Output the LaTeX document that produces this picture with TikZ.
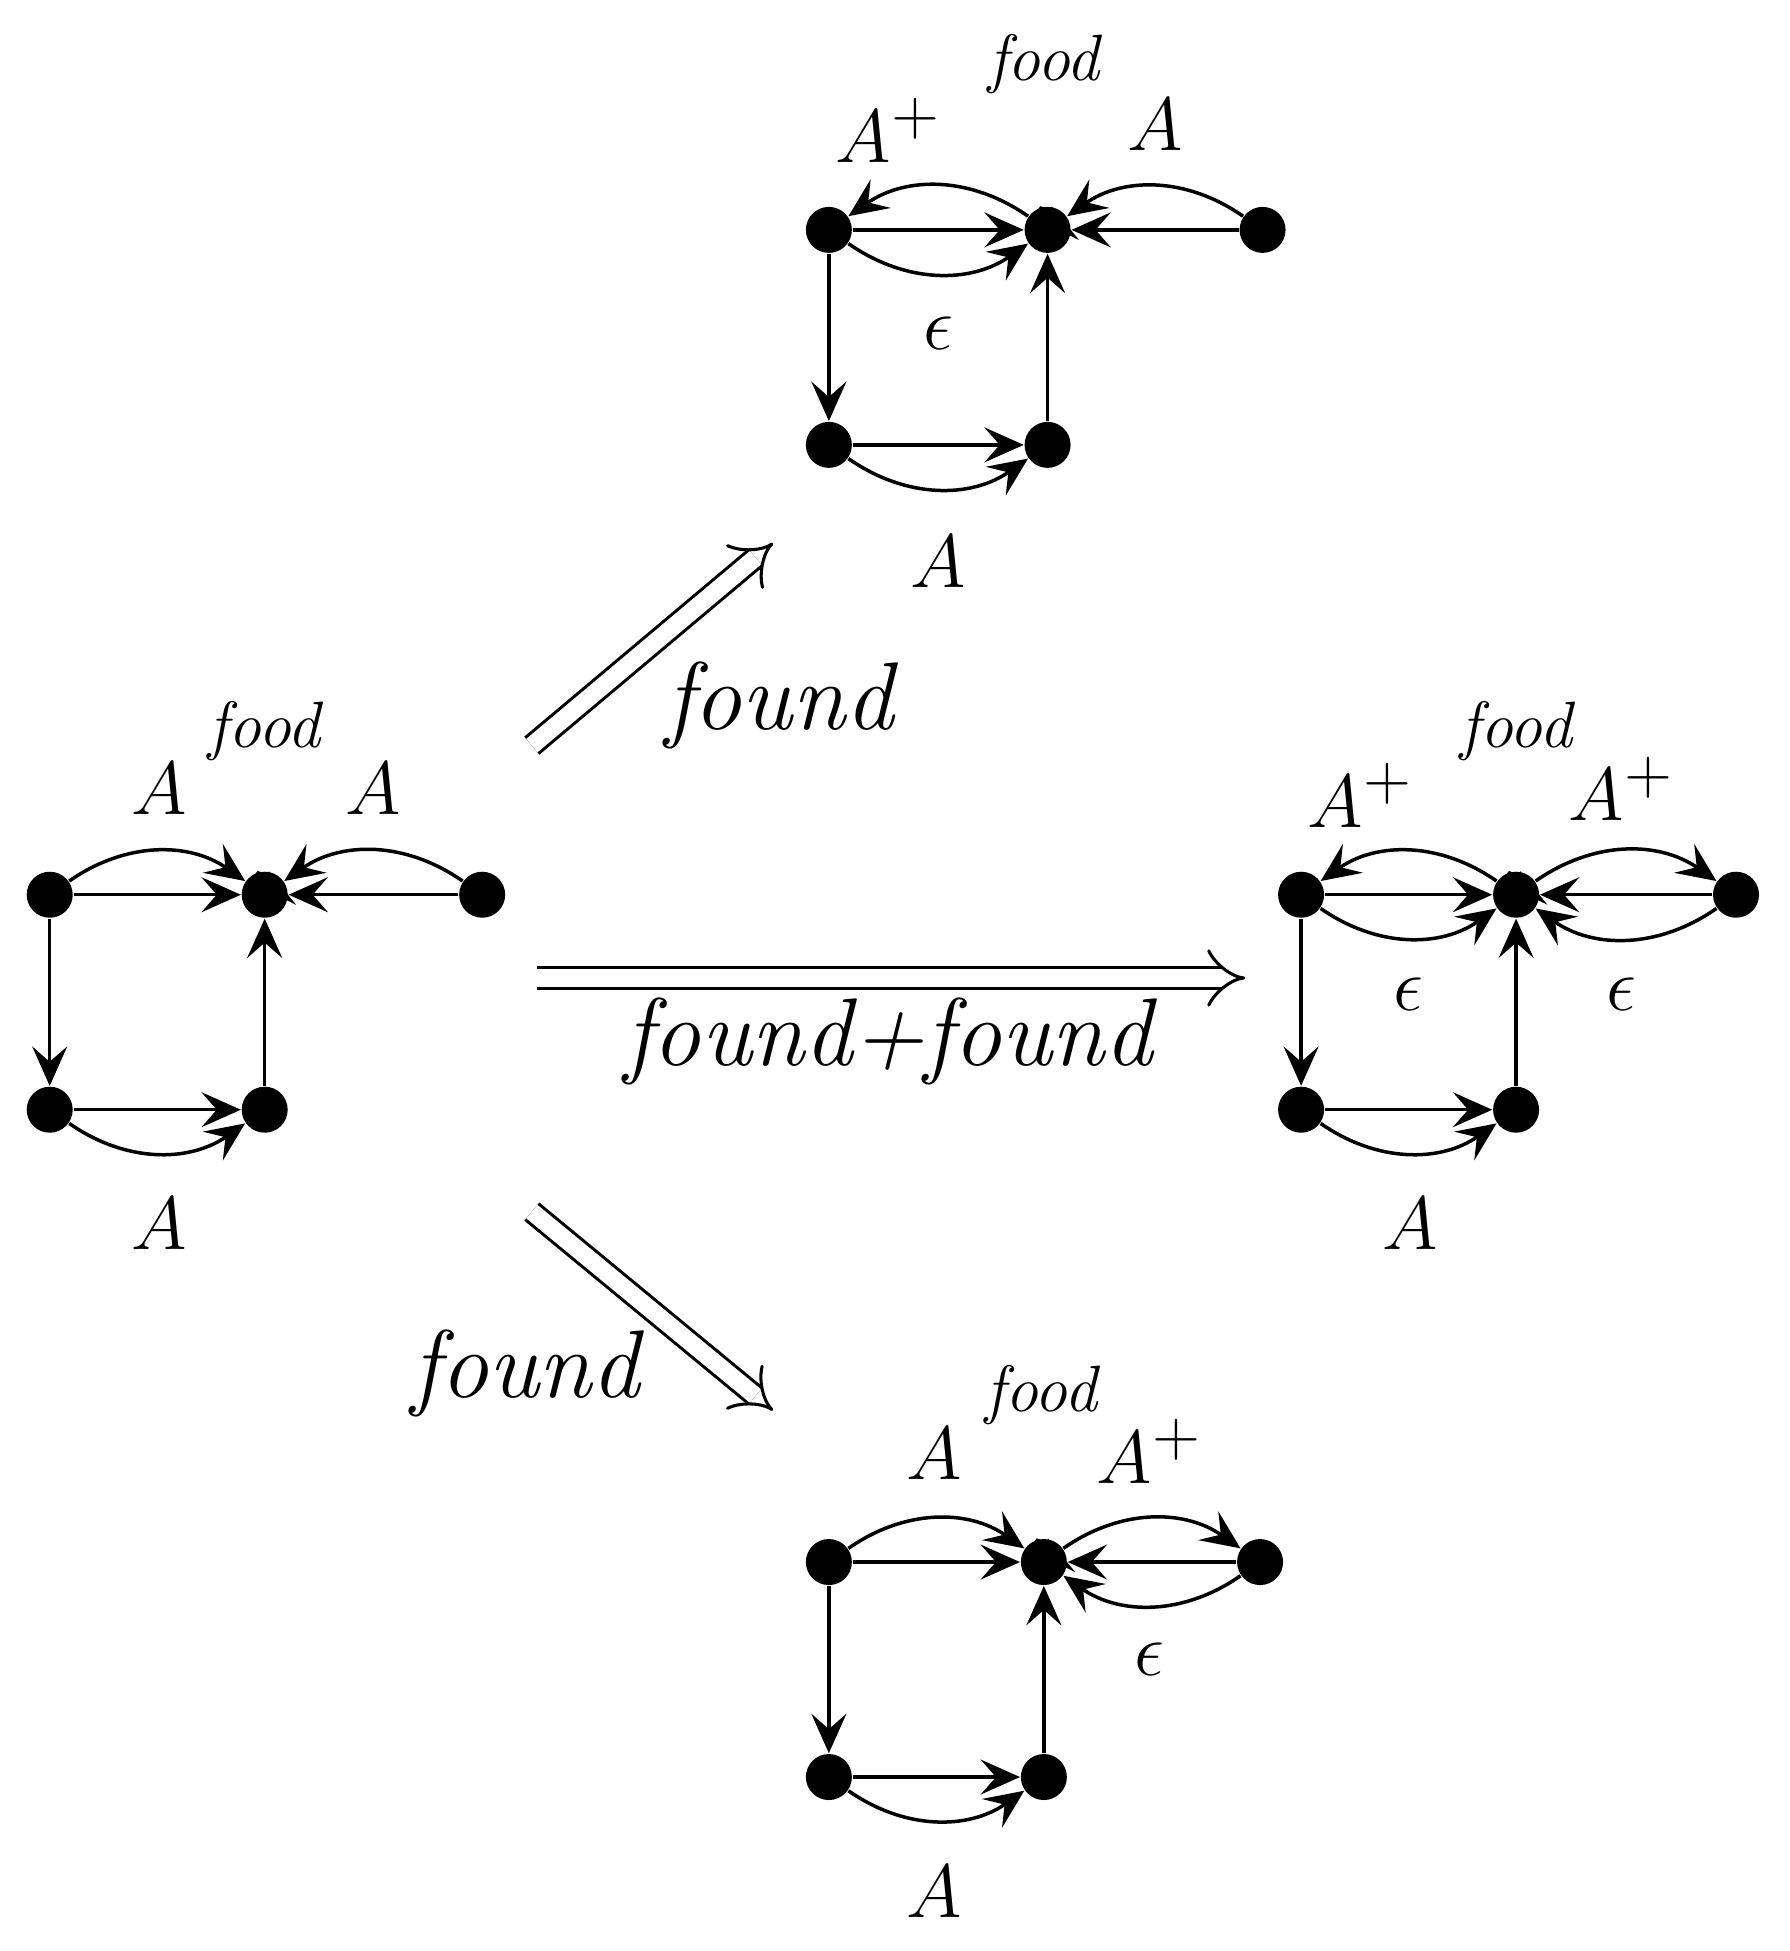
\documentclass[tikz,border=0pt]{standalone}
\usetikzlibrary{arrows.meta}
\begin{document}
\begin{tikzpicture}[x=0.01cm,y=-0.01cm,
  v/.style={circle,fill=black,inner sep=0pt,minimum size=0.37cm},
  e/.style={-{Stealth[length=9pt,width=8pt,inset=3.5pt]},line width=0.8pt},
  lab/.style={font=\fontsize{19}{22}\selectfont},
  fd/.style={font=\fontsize{15}{18}\selectfont\itshape},
  fn/.style={font=\fontsize{22}{26}\selectfont\itshape},
  imp/.style={double,double distance=4pt,line width=0.7pt,-{Implies[length=7pt]}}]
\useasboundingbox (0,0) rectangle (1440,1570);
% left
\node[v] (La) at (40,720) {}; \node[v] (Lb) at (213,720) {}; \node[v] (Lc) at (388,720) {};
\node[v] (Ld) at (40,893) {}; \node[v] (Le) at (213,893) {};
\draw[e] (La) -- (Lb); \draw[e] (La) to[bend left=35] (Lb);
\draw[e] (Lc) -- (Lb); \draw[e] (Lc) to[bend right=35] (Lb);
\draw[e] (Lb.110) .. controls +(100:1.0) and +(75:1.0) .. (Lb.80);
\draw[e] (La) -- (Ld); \draw[e] (Ld) -- (Le); \draw[e] (Ld) to[bend right=35] (Le); \draw[e] (Le) -- (Lb);
\node[lab] (l1) at (128,635) {$A$}; \node[fd] (l2) at (213,588) {food}; \node[lab] (l3) at (300,635) {$A$}; \node[lab] (l4) at (128,985) {$A$};
% top
\node[v] (Ta) at (667,185) {}; \node[v] (Tb) at (843,185) {}; \node[v] (Tc) at (1016,185) {};
\node[v] (Td) at (667,358) {}; \node[v] (Te) at (843,358) {};
\draw[e] (Ta) -- (Tb); \draw[e] (Tb) to[bend right=35] (Ta); \draw[e] (Ta) to[bend right=35] (Tb);
\draw[e] (Tc) -- (Tb); \draw[e] (Tc) to[bend right=35] (Tb);
\draw[e] (Tb.110) .. controls +(100:1.0) and +(75:1.0) .. (Tb.80);
\draw[e] (Ta) -- (Td); \draw[e] (Td) -- (Te); \draw[e] (Td) to[bend right=35] (Te); \draw[e] (Te) -- (Tb);
\node[lab] (t1) at (715,105) {$A^+$}; \node[fd] (t2) at (840,52) {food}; \node[lab] (t3) at (930,100) {$A$};
\node[lab] (t4) at (755,268) {$\epsilon$}; \node[lab] (t5) at (755,452) {$A$};
% right
\node[v] (Ra) at (1047,720) {}; \node[v] (Rb) at (1220,720) {}; \node[v] (Rc) at (1397,720) {};
\node[v] (Rd) at (1047,893) {}; \node[v] (Re) at (1220,893) {};
\draw[e] (Ra) -- (Rb); \draw[e] (Rb) to[bend right=35] (Ra); \draw[e] (Ra) to[bend right=35] (Rb);
\draw[e] (Rc) -- (Rb); \draw[e] (Rb) to[bend left=35] (Rc); \draw[e] (Rc) to[bend left=35] (Rb);
\draw[e] (Rb.110) .. controls +(100:1.0) and +(75:1.0) .. (Rb.80);
\draw[e] (Ra) -- (Rd); \draw[e] (Rd) -- (Re); \draw[e] (Rd) to[bend right=35] (Re); \draw[e] (Re) -- (Rb);
\node[lab] (r1) at (1095,640) {$A^+$}; \node[fd] (r2) at (1220,588) {food}; \node[lab] (r3) at (1305,635) {$A^+$};
\node[lab] (r4) at (1133,800) {$\epsilon$}; \node[lab] (r5) at (1305,800) {$\epsilon$}; \node[lab] (r6) at (1135,985) {$A$};
% bottom
\node[v] (Ba) at (667,1257) {}; \node[v] (Bb) at (840,1257) {}; \node[v] (Bc) at (1014,1257) {};
\node[v] (Bd) at (667,1430) {}; \node[v] (Be) at (840,1430) {};
\draw[e] (Ba) -- (Bb); \draw[e] (Ba) to[bend left=35] (Bb);
\draw[e] (Bc) -- (Bb); \draw[e] (Bb) to[bend left=35] (Bc); \draw[e] (Bc) to[bend left=35] (Bb);
\draw[e] (Bb.110) .. controls +(100:1.0) and +(75:1.0) .. (Bb.80);
\draw[e] (Ba) -- (Bd); \draw[e] (Bd) -- (Be); \draw[e] (Bd) to[bend right=35] (Be); \draw[e] (Be) -- (Bb);
\node[lab] (b1) at (752,1170) {$A$}; \node[fd] (b2) at (838,1123) {food}; \node[lab] (b3) at (925,1168) {$A^+$};
\node[lab] (b4) at (925,1335) {$\epsilon$}; \node[lab] (b5) at (752,1522) {$A$};
% transitions
\coordinate (s1) at (428,600); \coordinate (e1) at (622,437);
\coordinate (s2) at (432,787); \coordinate (e2) at (1002,787);
\coordinate (s3) at (428,975); \coordinate (e3) at (622,1135);
\draw[imp] (s1) -- (e1); \draw[imp] (s2) -- (e2); \draw[imp] (s3) -- (e3);
\node[fn] (f1) at (627,568) {found}; \node[fn] (f2) at (715,838) {found+found}; \node[fn] (f3) at (423,1105) {found};
\end{tikzpicture}
\end{document}
